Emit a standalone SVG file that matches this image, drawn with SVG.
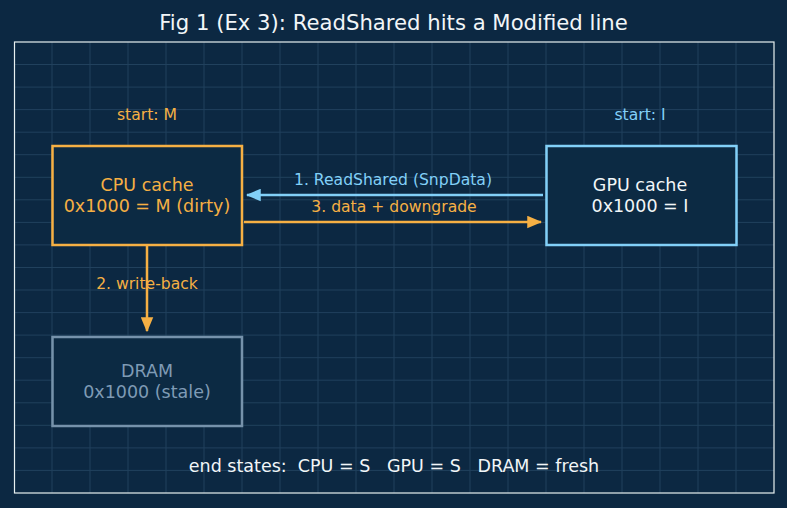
<svg xmlns="http://www.w3.org/2000/svg" width="787" height="508" viewBox="0 0 787 508">
<defs>
<style>
text{font-family:"DejaVu Sans","Noto Sans",sans-serif;text-anchor:middle}
.grid line{stroke:#21415d;stroke-width:1}
.box{fill:#0c2a43;stroke-width:2.5}
.cpu{stroke:#f6b044}
.gpu{stroke:#82d0f8}
.dram{stroke:#7692ab}
.t15{font-size:17.5px}
.t14{font-size:15.6px}
</style>
<marker id="ao" viewBox="0 0 12 10" refX="11" refY="5" markerWidth="6" markerHeight="5.2" orient="auto" markerUnits="strokeWidth"><path d="M0,0 L12,5 L0,10 Z" fill="#f6b044"/></marker>
<marker id="ab" viewBox="0 0 12 10" refX="11" refY="5" markerWidth="6" markerHeight="5.2" orient="auto" markerUnits="strokeWidth"><path d="M0,0 L12,5 L0,10 Z" fill="#82d0f8"/></marker>
</defs>
<rect width="787" height="508" fill="#0c2842"/>
<g class="grid">
<line x1="52" y1="42" x2="52" y2="493"/><line x1="90" y1="42" x2="90" y2="493"/><line x1="128" y1="42" x2="128" y2="493"/><line x1="166" y1="42" x2="166" y2="493"/><line x1="204" y1="42" x2="204" y2="493"/><line x1="242" y1="42" x2="242" y2="493"/><line x1="280" y1="42" x2="280" y2="493"/><line x1="318" y1="42" x2="318" y2="493"/><line x1="356" y1="42" x2="356" y2="493"/><line x1="394" y1="42" x2="394" y2="493"/><line x1="432" y1="42" x2="432" y2="493"/><line x1="470" y1="42" x2="470" y2="493"/><line x1="508" y1="42" x2="508" y2="493"/><line x1="546" y1="42" x2="546" y2="493"/><line x1="584" y1="42" x2="584" y2="493"/><line x1="622" y1="42" x2="622" y2="493"/><line x1="660" y1="42" x2="660" y2="493"/><line x1="698" y1="42" x2="698" y2="493"/><line x1="736" y1="42" x2="736" y2="493"/>
<line x1="14" y1="64.5" x2="774" y2="64.5"/><line x1="14" y1="87.1" x2="774" y2="87.1"/><line x1="14" y1="109.6" x2="774" y2="109.6"/><line x1="14" y1="132.2" x2="774" y2="132.2"/><line x1="14" y1="154.7" x2="774" y2="154.7"/><line x1="14" y1="177.3" x2="774" y2="177.3"/><line x1="14" y1="199.8" x2="774" y2="199.8"/><line x1="14" y1="222.4" x2="774" y2="222.4"/><line x1="14" y1="244.9" x2="774" y2="244.9"/><line x1="14" y1="267.5" x2="774" y2="267.5"/><line x1="14" y1="290" x2="774" y2="290"/><line x1="14" y1="312.6" x2="774" y2="312.6"/><line x1="14" y1="335.1" x2="774" y2="335.1"/><line x1="14" y1="357.7" x2="774" y2="357.7"/><line x1="14" y1="380.2" x2="774" y2="380.2"/><line x1="14" y1="402.8" x2="774" y2="402.8"/><line x1="14" y1="425.3" x2="774" y2="425.3"/><line x1="14" y1="447.9" x2="774" y2="447.9"/><line x1="14" y1="470.4" x2="774" y2="470.4"/>
</g>
<rect x="14.5" y="42" width="759.5" height="451" fill="none" stroke="#e8f0f0" stroke-width="1.2"/>
<text x="393.5" y="29.5" font-size="21.2" fill="#f2f6f8">Fig 1 (Ex 3): ReadShared hits a Modified line</text>
<text x="147" y="119.5" class="t14" fill="#f6b044">start: M</text>
<text x="640" y="119.5" class="t14" fill="#82d0f8">start: I</text>
<g id="connectors">
<line x1="543" y1="195" x2="247" y2="195" stroke="#82d0f8" stroke-width="2.5" marker-end="url(#ab)"/>
<text x="393" y="184.5" class="t14" fill="#82d0f8">1. ReadShared (SnpData)</text>
<line x1="244" y1="222" x2="541" y2="222" stroke="#f6b044" stroke-width="2.5" marker-end="url(#ao)"/>
<text x="394" y="211.5" class="t14" fill="#f6b044">3. data + downgrade</text>
<line x1="147" y1="246" x2="147" y2="331" stroke="#f6b044" stroke-width="2.5" marker-end="url(#ao)"/>
<text x="147" y="288.5" class="t14" fill="#f6b044">2. write-back</text>
</g>
<g id="cpu">
<rect class="box cpu" x="52.5" y="146" width="189.5" height="99"/>
<text x="147" y="190.5" class="t15" fill="#f6b044">CPU cache</text>
<text x="147" y="211.5" class="t15" fill="#f6b044">0x1000 = M (dirty)</text>
</g>
<g id="gpu">
<rect class="box gpu" x="546.5" y="146" width="190" height="99"/>
<text x="640" y="190.5" class="t15" fill="#f2f6f8">GPU cache</text>
<text x="640" y="211.5" class="t15" fill="#f2f6f8">0x1000 = I</text>
</g>
<g id="dram">
<rect class="box dram" x="52.5" y="337" width="189.5" height="89"/>
<text x="147" y="376.5" class="t15" fill="#7f9bb5">DRAM</text>
<text x="147" y="397.5" class="t15" fill="#7f9bb5">0x1000 (stale)</text>
</g>
<text x="394" y="472" class="t15" fill="#f2f6f8" xml:space="preserve">end states:  CPU = S   GPU = S   DRAM = fresh</text>
</svg>
